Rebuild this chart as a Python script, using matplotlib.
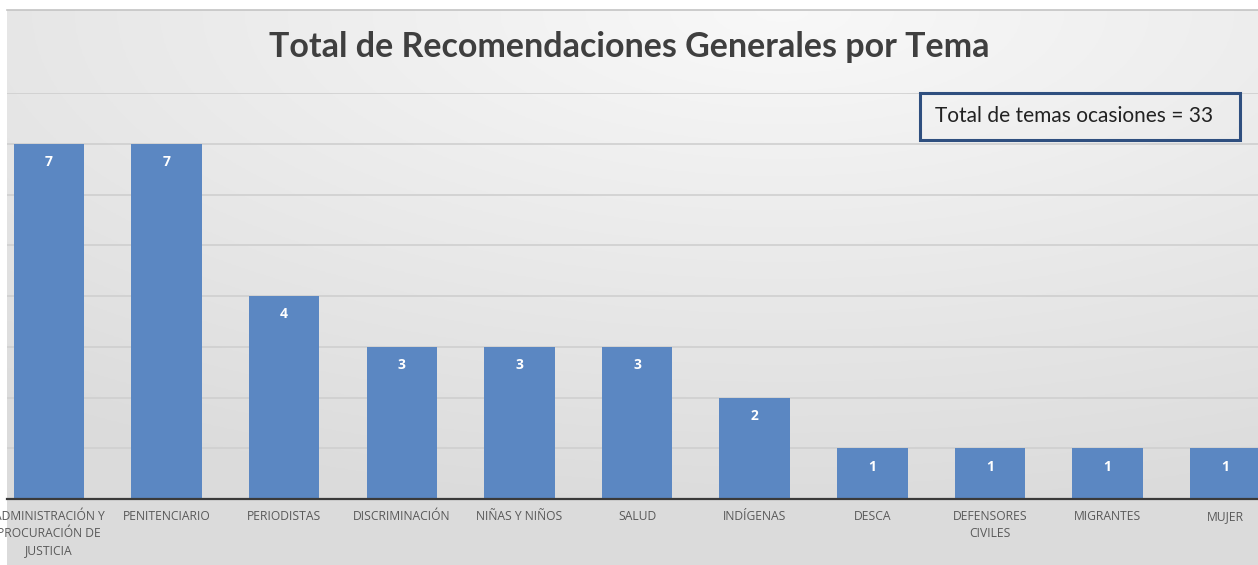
import numpy as np
import matplotlib
matplotlib.use("Agg")
import matplotlib.pyplot as plt
from matplotlib.patches import Rectangle
from matplotlib.lines import Line2D

# data
temas = ["ADMINISTRACIÓN Y\nPROCURACIÓN DE\nJUSTICIA", "PENITENCIARIO", "PERIODISTAS",
         "DISCRIMINACIÓN", "NIÑAS Y NIÑOS", "SALUD", "INDÍGENAS", "DESCA",
         "DEFENSORES\nCIVILES", "MIGRANTES", "MUJER"]
valores = [7, 7, 4, 3, 3, 3, 2, 1, 1, 1, 1]
titulo = "Total de Recomendaciones Generales por Tema"
nota = "Total de temas ocasiones = 33"

W, H = 1258, 565
fig = plt.figure(figsize=(W / 100, H / 100), dpi=100)
fig.patch.set_facecolor("white")

# gradient background of the chart area
bg = fig.add_axes([7 / W, 0, 1 - 7 / W, 1 - 10 / H], zorder=0)
yy, xx = np.mgrid[0:1:200j, 0:1:400j]
d = np.sqrt(((xx - 0.62) * 1.0) ** 2 + ((yy - 0.0) * 1.1) ** 2)
d = np.clip(d / 1.0, 0, 1)
c0 = np.array([0.975, 0.975, 0.975])
c1 = np.array([0.86, 0.86, 0.86])
img = c0 + (c1 - c0) * d[..., None]
bg.imshow(img, aspect="auto", extent=[0, 1, 0, 1], origin="upper")
bg.set_axis_off()

# top border
fig.add_artist(Line2D([7 / W, 1], [1 - 10 / H, 1 - 10 / H], color="#c4c4c4", lw=1.2))

ax = fig.add_axes([7 / W, 1 - 499 / H, 1 - 7 / W, (499 - 93) / H], zorder=1)
ax.patch.set_alpha(0)
x = np.arange(len(temas))
bars = ax.bar(x, valores, width=0.6, color="#5b87c2", zorder=2)
ax.set_xlim(-0.357, 10.28)
ax.set_ylim(0, 8)
ax.set_yticks(range(1, 9))
ax.yaxis.grid(True, color="#cfcfcf", lw=1.2, zorder=0)
ax.set_axisbelow(True)
ax.tick_params(axis="y", left=False, labelleft=False)
ax.tick_params(axis="x", length=0, pad=8)
ax.set_xticks(x)
ax.set_xticklabels(temas, fontsize=8.7, color="#595959", family="Open Sans", linespacing=1.4, va="top")
for s in ["top", "right", "left"]:
    ax.spines[s].set_visible(False)
ax.spines["bottom"].set_color("#3a3a3a")
ax.spines["bottom"].set_linewidth(1.6)

for xi, v in zip(x, valores):
    ax.text(xi, v - 0.36, str(v), ha="center", va="center", color="white",
            fontsize=10, fontweight="bold", family="Open Sans")

fig.text(0.5, 1 - 47 / H, titulo, ha="center", va="center", fontsize=24.5,
         fontweight="bold", color="#3f3f3f", family="Lato")

fig.add_artist(Rectangle((920 / W, 1 - 140 / H), 320 / W, 47 / H, transform=fig.transFigure,
                         facecolor="none", edgecolor="#2f4f7f", lw=2.2, zorder=3))
fig.text(935 / W, 1 - 116 / H, nota, ha="left", va="center", fontsize=15,
         color="#222222", family="Lato", zorder=4)

fig.savefig("out.png", dpi=100)
